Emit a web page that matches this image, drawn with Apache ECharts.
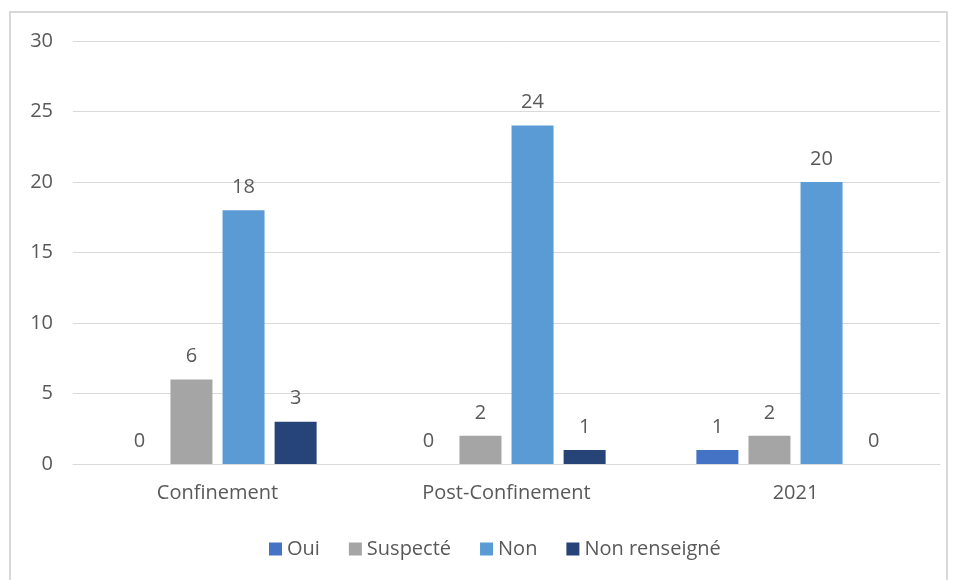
<!DOCTYPE html>
<html>
<head>
<meta charset="utf-8">
<script src="https://cdn.jsdelivr.net/npm/echarts@6/dist/echarts.min.js"></script>
<style>
  html, body { margin:0; padding:0; background:#fff; }
  #frame { position:absolute; left:9px; top:11px; width:939px; height:600px; border:2px solid #d9d9d9; box-sizing:border-box; }
  #chart { position:absolute; left:0; top:0; width:957px; height:580px; }
</style>
</head>
<body>
<div id="frame"></div>
<div id="chart"></div>
<script>
// data
const categories = ['Confinement', 'Post-Confinement', '2021'];
const seriesNames = ['Oui', 'Suspecté', 'Non', 'Non renseigné'];
const oui = [0, 0, 1];
const suspecte = [6, 2, 2];
const non = [18, 24, 20];
const nonRenseigne = [3, 1, 0];
const colors = ['#4472C4', '#A5A5A5', '#5B9BD5', '#264478'];

const FONT = '"Open Sans", "Liberation Sans", sans-serif';
const TXT = '#595959';
const FS = 20;

const chart = echarts.init(document.getElementById('chart'), null, { renderer: 'canvas' });

function bar(name, data, color){
  return {
    name, type: 'bar', data, barWidth: 42, barGap: '24%',
    itemStyle: { color },
    label: { show: true, position: 'top', distance: 13, color: TXT, fontSize: FS, fontFamily: FONT }
  };
}

chart.setOption({
  animation: false,
  color: colors,
  grid: { left: 73, right: 17, top: 41, bottom: 116 },
  legend: {
    bottom: 16, left: 264,
    itemWidth: 13, itemHeight: 13, itemGap: 29, icon: 'rect',
    textStyle: { color: TXT, fontSize: FS, fontFamily: FONT },
    data: seriesNames
  },
  xAxis: {
    type: 'category', data: categories,
    axisLine: { lineStyle: { color: '#d9d9d9', width: 1 } },
    axisTick: { show: false },
    axisLabel: { color: TXT, fontSize: FS, fontFamily: FONT, margin: 19 }
  },
  yAxis: {
    type: 'value', min: 0, max: 30, interval: 5,
    axisLine: { show: false }, axisTick: { show: false },
    splitLine: { lineStyle: { color: '#d9d9d9', width: 1 } },
    axisLabel: { color: TXT, fontSize: FS, fontFamily: FONT, margin: 20 }
  },
  series: [
    bar(seriesNames[0], oui, colors[0]),
    bar(seriesNames[1], suspecte, colors[1]),
    bar(seriesNames[2], non, colors[2]),
    bar(seriesNames[3], nonRenseigne, colors[3])
  ]
});
</script>
</body>
</html>
